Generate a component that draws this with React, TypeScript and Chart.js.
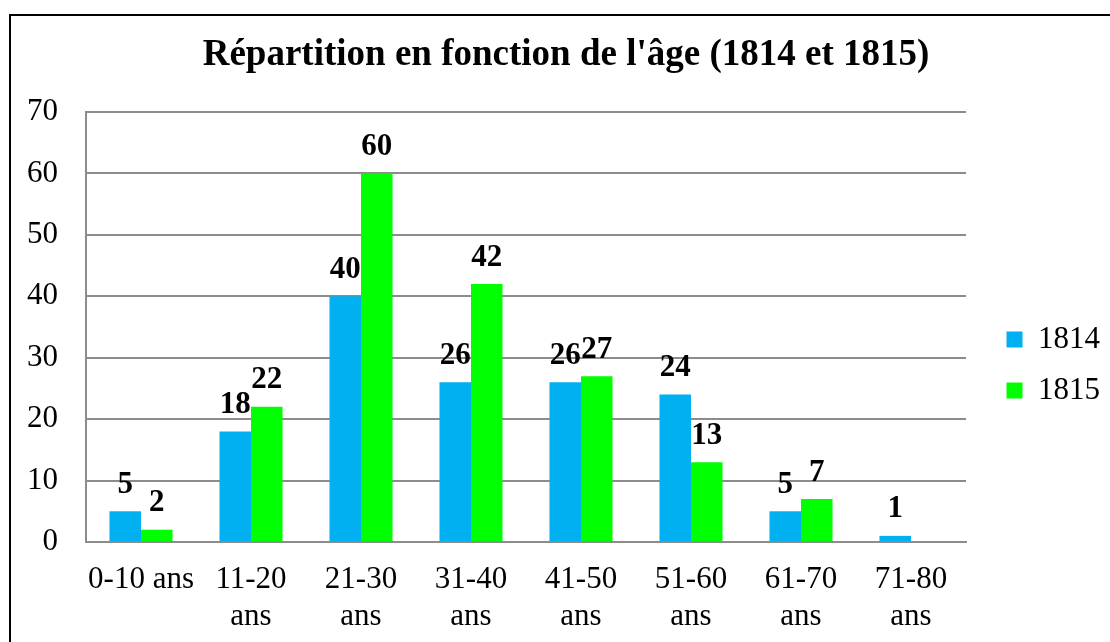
import React, { useEffect, useRef } from "react";
import { Chart, registerables } from "chart.js";

Chart.register(...registerables);

const categories: (string | string[])[] = [
  "0-10 ans",
  ["11-20", "ans"],
  ["21-30", "ans"],
  ["31-40", "ans"],
  ["41-50", "ans"],
  ["51-60", "ans"],
  ["61-70", "ans"],
  ["71-80", "ans"],
];
const values1814: (number | null)[] = [5, 18, 40, 26, 26, 24, 5, 1];
const values1815: (number | null)[] = [2, 22, 60, 42, 27, 13, 7, null];
const seriesNames = ["1814", "1815"];
const yTicks = [0, 10, 20, 30, 40, 50, 60, 70];
const titleText = "Répartition en fonction de l'âge (1814 et 1815)";

const FONT = "'Liberation Serif', 'Times New Roman', serif";

const labelPlugin = {
  id: "barValueLabels",
  afterDatasetsDraw(chart: any) {
    const ctx = chart.ctx;
    ctx.save();
    ctx.font = `bold 31px ${FONT}`;
    ctx.fillStyle = "#000";
    ctx.textAlign = "center";
    ctx.textBaseline = "alphabetic";
    chart.data.datasets.forEach((ds: any, i: number) => {
      const meta = chart.getDatasetMeta(i);
      meta.data.forEach((bar: any, j: number) => {
        const v = ds.data[j];
        if (v === null || v === undefined) return;
        ctx.fillText(String(v), bar.x, bar.y - 18.5);
      });
    });
    ctx.restore();
  },
};

export default function App() {
  const ref = useRef<HTMLCanvasElement>(null);
  useEffect(() => {
    if (!ref.current) return;
    const chart = new Chart(ref.current, {
      type: "bar",
      data: {
        labels: categories,
        datasets: [
          {
            label: seriesNames[0],
            data: values1814,
            backgroundColor: "#00B0F0",
            borderWidth: 0,
            barPercentage: 1,
            categoryPercentage: 0.573,
          },
          {
            label: seriesNames[1],
            data: values1815,
            backgroundColor: "#00FF00",
            borderWidth: 0,
            barPercentage: 1,
            categoryPercentage: 0.573,
          },
        ],
      },
      options: {
        animation: false,
        responsive: true,
        maintainAspectRatio: false,
        layout: { padding: { left: 22, right: 0, top: 0, bottom: 0 } },
        plugins: {
          title: {
            display: true,
            text: titleText,
            color: "#000",
            font: { family: FONT, size: 37, weight: "bold" },
            padding: { top: 33.3, bottom: 34.3 },
          },
          legend: {
            display: true,
            position: "right",
            align: "start",
            title: {
              display: true,
              text: "",
              font: { size: 12 },
              padding: { top: 289.6, bottom: 0 },
            },
            labels: {
              boxWidth: 16,
              boxHeight: 16,
              padding: 20,
              color: "#000",
              font: { family: FONT, size: 31 },
            },
          },
          tooltip: { enabled: false },
        },
        scales: {
          x: {
            grid: { display: false, drawTicks: false },
            border: { display: true, color: "#8C8C8C", width: 2 },
            ticks: {
              color: "#000",
              font: { family: FONT, size: 31 },
              padding: 19,
              maxRotation: 0,
              autoSkip: false,
            },
            afterFit: (s: any) => {
              s.height = 100;
            },
          },
          y: {
            min: 0,
            max: 70,
            grid: { color: "#8C8C8C", lineWidth: 2, drawTicks: false },
            border: { display: true, color: "#8C8C8C", width: 2 },
            ticks: {
              stepSize: 10,
              color: "#000",
              font: { family: FONT, size: 31 },
              padding: 28,
              callback: (v: any) => (yTicks.includes(Number(v)) ? String(v) : ""),
            },
            afterFit: (s: any) => {
              s.width = 64;
            },
          },
          pad: {
            type: "linear",
            position: "right",
            display: true,
            grid: { display: false, drawTicks: false },
            border: { display: false },
            ticks: { display: false },
            afterFit: (s: any) => {
              s.width = 20.5;
            },
          },
        },
      },
      plugins: [labelPlugin],
    } as any);
    return () => chart.destroy();
  }, []);

  return (
    <div
      style={{
        position: "fixed",
        left: 0,
        top: 0,
        width: 1110,
        height: 642,
        overflow: "hidden",
        background: "#fff",
      }}
    >
      <div
        style={{
          position: "absolute",
          left: 9,
          top: 14,
          width: 1200,
          height: 700,
          border: "2px solid #000",
        }}
      />
      <div style={{ position: "absolute", left: 0, top: 0, width: 1110, height: 642 }}>
        <canvas ref={ref} />
      </div>
    </div>
  );
}
